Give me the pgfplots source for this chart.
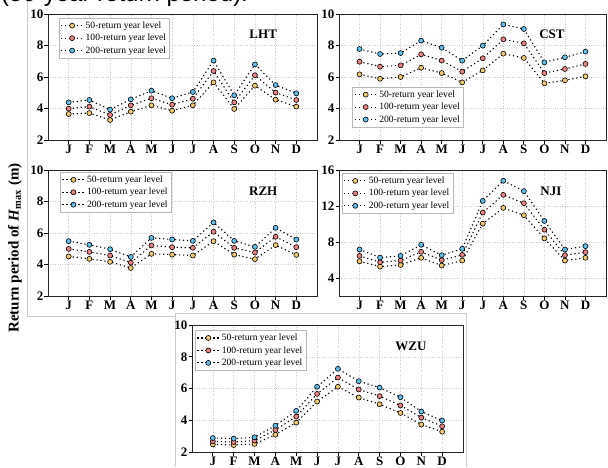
\documentclass[border=0pt]{standalone}
\usepackage{pgfplots}
\pgfplotsset{compat=1.18}
\usepackage{pgfplotstable}
\usepackage{fontspec}
\setmainfont{Liberation Serif}
\newfontfamily\arialfont{Liberation Sans}

\definecolor{cy}{HTML}{F2C96B}
\definecolor{cr}{HTML}{EE8080}
\definecolor{cb}{HTML}{5CC0EE}

\pgfplotstableread{
m a b c
0 3.65 3.99 4.39
1 3.71 4.12 4.54
2 3.27 3.59 3.93
3 3.80 4.20 4.58
4 4.20 4.65 5.13
5 3.86 4.24 4.65
6 4.20 4.62 5.05
7 5.66 6.38 7.04
8 3.97 4.39 4.84
9 5.45 6.11 6.80
10 4.56 5.01 5.49
11 4.12 4.54 4.96
}\LHT

\pgfplotstableread{
m a b c
0 6.17 6.97 7.78
1 5.89 6.66 7.46
2 6.00 6.74 7.52
3 6.59 7.44 8.31
4 6.25 7.04 7.86
5 5.66 6.34 7.04
6 6.42 7.19 7.99
7 7.48 8.39 9.34
8 7.21 8.14 9.05
9 5.60 6.25 6.93
10 5.79 6.51 7.25
11 6.04 6.83 7.61
}\CST

\pgfplotstableread{
m a b c
0 4.51 4.99 5.48
1 4.36 4.80 5.25
2 4.17 4.57 4.97
3 3.78 4.12 4.48
4 4.68 5.21 5.69
5 4.63 5.10 5.59
6 4.57 5.06 5.50
7 5.48 6.08 6.67
8 4.63 5.06 5.50
9 4.34 4.76 5.12
10 5.23 5.76 6.33
11 4.61 5.10 5.59
}\RZH

\pgfplotstableread{
m a b c
0 5.86 6.46 7.17
1 5.27 5.75 6.27
2 5.45 5.94 6.46
3 6.24 6.91 7.69
4 5.38 5.98 6.53
5 5.94 6.57 7.24
6 10.04 11.27 12.57
7 11.79 13.24 14.81
8 10.97 12.31 13.65
9 8.40 9.37 10.34
10 5.94 6.53 7.17
11 6.24 6.87 7.54
}\NJI

\pgfplotstableread{
m a b c
0 2.48 2.67 2.88
1 2.44 2.63 2.84
2 2.51 2.72 2.93
3 3.09 3.39 3.66
4 3.85 4.23 4.59
5 5.18 5.66 6.11
6 6.11 6.69 7.24
7 5.43 5.94 6.46
8 5.01 5.52 6.06
9 4.46 4.93 5.45
10 3.73 4.17 4.55
11 3.28 3.62 3.98
}\WZU

\pgfplotsset{
  panel/.style={
    scale only axis, width=269pt, height=126pt,
    xmin=-1, xmax=12, ymin=2, ymax=10,
    xtick={0,...,11}, xticklabels={J,F,M,A,M,J,J,A,S,O,N,D},
    ytick={2,4,...,10},
    grid=major,
    major grid style={dash pattern=on 0.6pt off 1.8pt, gray!40, line width=0.5pt},
    axis line style={line width=0.9pt, black!85},
    tick align=outside, xtick pos=bottom, ytick pos=left,
    major tick length=3.5pt,
    tick style={black, line width=0.8pt},
    ticklabel style={font=\fontsize{13}{13}\selectfont\bfseries},
    yticklabel style={inner sep=1pt},
    xticklabel style={inner sep=1pt},
    /pgf/number format/assume math mode=true,
    legend cell align=left,
    legend image code/.code={%
      \draw[mark repeat=2,mark phase=2] plot coordinates {(0pt,0pt) (11pt,0pt) (22pt,0pt)};},
    legend style={draw=gray!55, line width=0.6pt, fill=white,
      font=\fontsize{9.6}{10}\selectfont, inner sep=1.5pt, row sep=0.3pt},
  },
  ser/.style={black, line width=1.1pt, dash pattern=on 1.2pt off 2.8pt,
    mark=*, mark size=2.5pt,
    mark options={solid, fill=#1, draw=black, line width=0.6pt}},
}
\tikzset{ttl/.style={font=\fontsize{13}{13}\selectfont\bfseries}}

\begin{document}
\begin{tikzpicture}[x=1pt,y=1pt]
% panel frames
\draw[gray!40, line width=0.6pt] (27,467) -- (27,151) -- (175,151);
\draw[gray!40, line width=0.6pt] (175,0) -- (175,154) -- (466,154) -- (466,0);

% cropped caption text at top
\node[anchor=base west, inner sep=0, font=\arialfont\fontsize{24}{24}\selectfont] at (1,465) {(50-year return period).};

% LHT
\begin{axis}[panel, at={(48pt,327pt)}, anchor=south west,
  legend style={at={(0.04,0.97)}, anchor=north west}]
\addplot[ser=cy] table[x=m,y=a] {\LHT};
\addplot[ser=cr] table[x=m,y=b] {\LHT};
\addplot[ser=cb] table[x=m,y=c] {\LHT};
\legend{50-return year level,100-return year level,200-return year level}
\node[ttl] at (axis cs:9.4,8.73) {LHT};
\end{axis}

% CST
\begin{axis}[panel, width=267pt, at={(339pt,327pt)}, anchor=south west,
  legend style={at={(0.05,0.1)}, anchor=south west}]
\addplot[ser=cy] table[x=m,y=a] {\CST};
\addplot[ser=cr] table[x=m,y=b] {\CST};
\addplot[ser=cb] table[x=m,y=c] {\CST};
\legend{50-return year level,100-return year level,200-return year level}
\node[ttl] at (axis cs:9.37,8.73) {CST};
\end{axis}

% RZH
\begin{axis}[panel, at={(48pt,171pt)}, anchor=south west,
  legend style={at={(0.045,0.985)}, anchor=north west}]
\addplot[ser=cy] table[x=m,y=a] {\RZH};
\addplot[ser=cr] table[x=m,y=b] {\RZH};
\addplot[ser=cb] table[x=m,y=c] {\RZH};
\legend{50-return year level,100-return year level,200-return year level}
\node[ttl] at (axis cs:9.4,8.67) {RZH};
\end{axis}

% NJI
\begin{axis}[panel, width=267pt, at={(339pt,171pt)}, anchor=south west,
  ymin=2, ymax=16, ytick={4,8,12,16},
  legend style={at={(0.011,0.976)}, anchor=north west}]
\addplot[ser=cy] table[x=m,y=a] {\NJI};
\addplot[ser=cr] table[x=m,y=b] {\NJI};
\addplot[ser=cb] table[x=m,y=c] {\NJI};
\legend{50-return year level,100-return year level,200-return year level}
\node[ttl] at (axis cs:9.32,13.6) {NJI};
\end{axis}

% WZU
\begin{axis}[panel, width=271pt, height=127pt, at={(192pt,15pt)}, anchor=south west,
  legend style={at={(0.011,0.96)}, anchor=north west}]
\addplot[ser=cy] table[x=m,y=a] {\WZU};
\addplot[ser=cr] table[x=m,y=b] {\WZU};
\addplot[ser=cb] table[x=m,y=c] {\WZU};
\legend{50-return year level,100-return year level,200-return year level}
\node[ttl] at (axis cs:9.5,8.68) {WZU};
\end{axis}

% y label
\node[rotate=90, font=\fontsize{15}{15}\selectfont\bfseries] at (15,219)
  {Return period of \textit{H}\textsubscript{max} (m)};

\pgfresetboundingbox
\path[use as bounding box] (0,0) rectangle (608,467);
\end{tikzpicture}
\end{document}
